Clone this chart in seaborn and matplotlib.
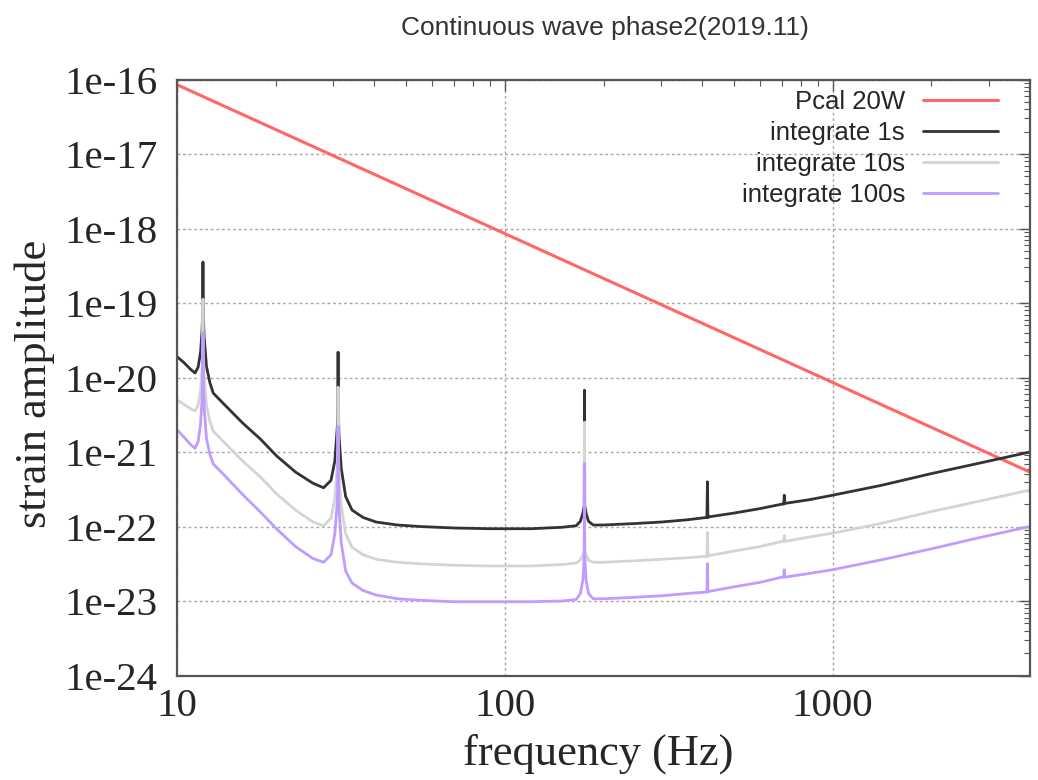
import numpy as np
import pandas as pd
import seaborn as sns
import matplotlib
matplotlib.use("Agg")
import matplotlib.pyplot as plt
from matplotlib.ticker import LogLocator, FixedLocator, FuncFormatter, NullFormatter

# frequencies (Hz) shared by the three integration curves
freq = [10, 10.5, 11, 11.35, 11.6, 11.8, 11.92, 11.97, 12.0, 12.03,
        12.1, 12.3, 12.6, 12.9, 14, 15.85, 18, 20.1, 23, 26,
        28, 29.5, 30.3, 30.85, 30.95, 31.0, 31.05, 31.2, 31.7, 32.7,
        34.2, 37, 40.5, 47, 55, 70, 90, 120, 150, 165,
        170, 173, 174.7, 175, 175.3, 177, 180, 186, 200, 250,
        300, 360, 410, 413.5, 415, 416.5, 420, 500, 600, 700,
        709, 712, 715, 850, 1000, 1400, 2000, 2800, 4000]

# log10 of strain amplitude
log_1s = [-19.72, -19.80, -19.89, -19.94, -19.86, -19.66, -19.38, -19.15, -18.45, -19.15,
          -19.45, -19.85, -20.07, -20.21, -20.37, -20.61, -20.83, -21.05, -21.27, -21.42,
          -21.48, -21.38, -21.12, -20.65, -20.40, -19.66, -20.40, -20.78, -21.22, -21.60,
          -21.78, -21.88, -21.94, -21.98, -22.00, -22.02, -22.03, -22.03, -22.01, -21.99,
          -21.93, -21.82, -21.72, -20.17, -21.72, -21.82, -21.93, -21.98, -21.98, -21.96,
          -21.94, -21.91, -21.88, -21.88, -21.40, -21.88, -21.87, -21.82, -21.76, -21.70,
          -21.70, -21.58, -21.69, -21.64, -21.58, -21.45, -21.29, -21.15, -21.00]

log_10s = [-20.30, -20.36, -20.42, -20.45, -20.37, -20.17, -19.90, -19.68, -18.95, -19.68,
           -19.97, -20.37, -20.59, -20.72, -20.88, -21.12, -21.34, -21.56, -21.78, -21.94,
           -21.99, -21.89, -21.63, -21.16, -20.90, -20.13, -20.90, -21.28, -21.72, -22.10,
           -22.28, -22.38, -22.44, -22.48, -22.50, -22.52, -22.53, -22.53, -22.51, -22.49,
           -22.45, -22.38, -22.32, -20.60, -22.32, -22.38, -22.45, -22.48, -22.48, -22.46,
           -22.44, -22.42, -22.40, -22.40, -22.08, -22.40, -22.39, -22.33, -22.27, -22.20,
           -22.20, -22.12, -22.20, -22.14, -22.09, -21.96, -21.80, -21.66, -21.51]

log_100s = [-20.70, -20.80, -20.90, -20.95, -20.86, -20.62, -20.30, -20.05, -19.40, -20.05,
            -20.40, -20.82, -21.03, -21.16, -21.32, -21.57, -21.81, -22.03, -22.27, -22.43,
            -22.48, -22.38, -22.10, -21.65, -21.30, -20.66, -21.30, -21.75, -22.22, -22.60,
            -22.76, -22.86, -22.92, -22.97, -22.99, -23.01, -23.01, -23.01, -23.00, -22.98,
            -22.90, -22.72, -22.40, -21.15, -22.40, -22.72, -22.90, -22.97, -22.97, -22.95,
            -22.93, -22.90, -22.88, -22.88, -22.50, -22.88, -22.87, -22.81, -22.75, -22.68,
            -22.68, -22.58, -22.68, -22.63, -22.58, -22.45, -22.30, -22.15, -22.00]

# Pcal 20W reference line (straight on log-log)
pcal_freq = [10, 4000]
pcal_log = [-16.07, -21.27]

labels = ["Pcal 20W", "integrate 1s", "integrate 10s", "integrate 100s"]
colors = ["#ff6666", "#333333", "#d4d4d4", "#c09cff"]

sns.set_theme(style="white")
plt.rcParams["font.family"] = ["Liberation Serif", "DejaVu Serif"]

fig = plt.figure(figsize=(10.38, 7.8), dpi=100)
ax = fig.add_axes([177 / 1038, 1 - 675.5 / 780, 853 / 1038, 596 / 780])
ax.set_xscale("log")
ax.set_yscale("log")

pcal = pd.DataFrame({"f": pcal_freq, "h": np.power(10.0, pcal_log)})
sns.lineplot(data=pcal, x="f", y="h", ax=ax, color=colors[0], lw=2.2,
             label=labels[0], estimator=None, sort=False)
for lab, col, vals in zip(labels[1:], colors[1:], [log_1s, log_10s, log_100s]):
    df = pd.DataFrame({"f": freq, "h": np.power(10.0, vals)})
    sns.lineplot(data=df, x="f", y="h", ax=ax, color=col, lw=2.0,
                 label=lab, estimator=None, sort=False)

ax.set_xlim(10, 4000)
ax.set_ylim(1e-24, 1e-16)

ax.xaxis.set_major_locator(FixedLocator([10, 100, 1000]))
ax.xaxis.set_major_formatter(FuncFormatter(lambda v, p: "%d" % round(v)))
ax.xaxis.set_minor_locator(LogLocator(base=10, subs=np.arange(2, 10), numticks=100))
ax.xaxis.set_minor_formatter(NullFormatter())
ax.yaxis.set_major_locator(FixedLocator([10.0 ** e for e in range(-24, -15)]))
ax.yaxis.set_major_formatter(FuncFormatter(lambda v, p: "1e%d" % round(np.log10(v))))
ax.yaxis.set_minor_locator(LogLocator(base=10, subs=np.arange(2, 10), numticks=100))
ax.yaxis.set_minor_formatter(NullFormatter())

ax.tick_params(which="both", direction="in", top=True, right=True, color="#555555")
ax.tick_params(which="major", length=8, width=1.0, labelsize=29.5)
ax.tick_params(which="minor", length=4, width=0.8)
ax.tick_params(axis="y", which="major", pad=14)
ax.tick_params(axis="x", which="major", pad=9)

ax.grid(True, which="major", ls=(0, (2, 2)), color="#a8a8a8", lw=1.0)
for s in ax.spines.values():
    s.set_color("#555555")
    s.set_linewidth(1.6)

ax.set_xlabel("frequency (Hz)", fontsize=32)
ax.set_ylabel("strain amplitude", fontsize=32)
ax.xaxis.set_label_coords(0.494, -0.097)
ax.yaxis.set_label_coords(-0.143, 0.49)

fig.text(605 / 1038, 1 - 28 / 780, "Continuous wave phase2(2019.11)",
         ha="center", va="center", fontsize=19,
         family=["Liberation Sans", "DejaVu Sans"], color="#333333")

ax.legend(loc="upper right", bbox_to_anchor=(0.974, 1.0), borderaxespad=0,
          frameon=False, markerfirst=False, handlelength=2.9, handletextpad=0.7,
          labelspacing=0.27, prop={"family": ["Liberation Sans", "DejaVu Sans"], "size": 18.5})

fig.savefig("out.png", dpi=100)
